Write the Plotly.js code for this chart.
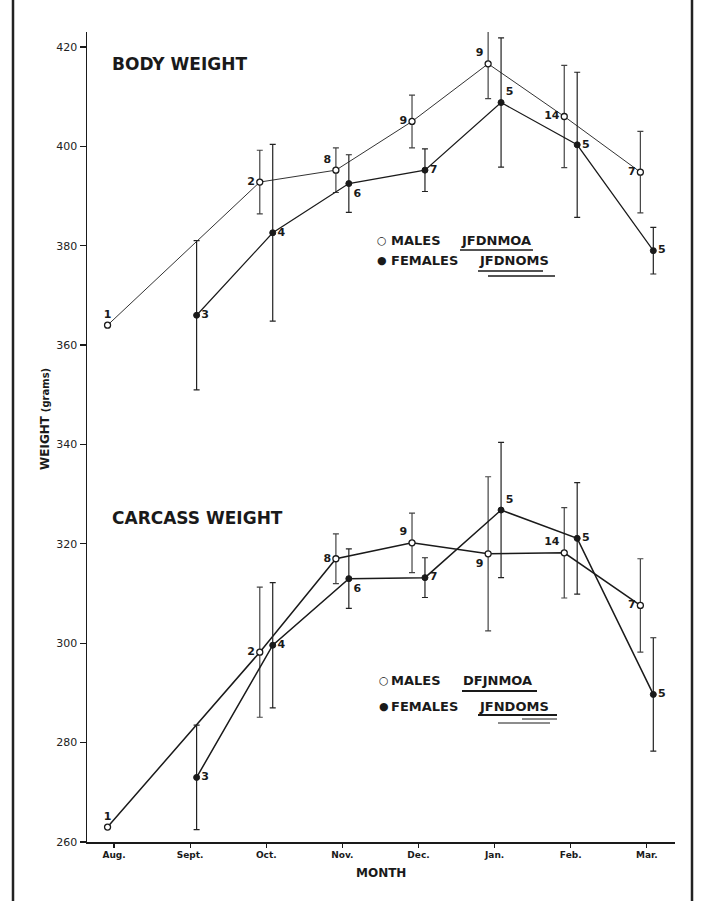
<!DOCTYPE html>
<html>
<head>
<meta charset="utf-8">
<script src="https://cdn.plot.ly/plotly-3.0.1.min.js"></script>
<style>
  html, body { margin: 0; padding: 0; background: #fff; }
  #chart { width: 701px; height: 901px; }
</style>
</head>
<body>
<div id="chart"></div>
<script>
// ---- data ----
const months = ['Aug.', 'Sept.', 'Oct.', 'Nov.', 'Dec.', 'Jan.', 'Feb.', 'Mar.'];
const maleMonths = ['Aug.', 'Oct.', 'Nov.', 'Dec.', 'Jan.', 'Feb.', 'Mar.'];
const femaleMonths = ['Sept.', 'Oct.', 'Nov.', 'Dec.', 'Jan.', 'Feb.', 'Mar.'];

const bodyMale = [364, 392.8, 395.2, 405, 416.6, 406, 394.8];
const bodyMaleErr = [0, 6.4, 4.5, 5.3, 7, 10.3, 8.2];
const bodyMaleN = ['1', '2', '8', '9', '9', '14', '7'];

const bodyFemale = [366, 382.6, 392.5, 395.2, 408.8, 400.3, 379];
const bodyFemaleErr = [15, 17.8, 5.8, 4.3, 13, 14.6, 4.7];
const bodyFemaleN = ['3', '4', '6', '7', '5', '5', '5'];

const carcMale = [263, 298.2, 317, 320.2, 318, 318.2, 307.6];
const carcMaleErr = [0, 13.1, 5, 6, 15.5, 9.1, 9.4];
const carcMaleN = ['1', '2', '8', '9', '9', '14', '7'];

const carcFemale = [273, 299.6, 313, 313.2, 326.8, 321.1, 289.7];
const carcFemaleErr = [10.5, 12.6, 6, 4, 13.6, 11.2, 11.4];
const carcFemaleN = ['3', '4', '6', '7', '5', '5', '5'];

const yTicks = [260, 280, 300, 320, 340, 360, 380, 400, 420];

const bodyLegend = { males: 'JFDNMOA', females: 'JFDNOMS' };
const carcLegend = { males: 'DFJNMOA', females: 'JFNDOMS' };

// ---- layout helpers (pixel -> paper) ----
const L = 87, R = 675, T = 32, B = 842;
const W = R - L, H = B - T;
const px = x => (x - L) / W;
const py = y => (B - y) / H;

const OFF = 0.085;
const xm = maleMonths.map(m => months.indexOf(m) - OFF);
const xf = femaleMonths.map(m => months.indexOf(m) + OFF);

const FONT = 'DejaVu Sans, Arial, sans-serif';
const INK = '#1a1a1a';

function trace(x, y, err, n, female, lineW, lineColor, tpos) {
  return {
    type: 'scatter',
    mode: 'lines+markers+text',
    x: x, y: y,
    text: n,
    textposition: tpos,
    textfont: { family: FONT, size: 11, color: INK, weight: 'bold' },
    line: { color: lineColor, width: lineW },
    marker: female
      ? { symbol: 'circle', size: 6, color: INK, line: { color: INK, width: 1 } }
      : { symbol: 'circle', size: 6, color: '#ffffff', line: { color: INK, width: 1.3 } },
    error_y: {
      type: 'data', array: err, visible: true,
      color: female ? '#222' : '#444', thickness: 1.2, width: 3
    },
    cliponaxis: false,
    showlegend: false,
    hoverinfo: 'x+y'
  };
}

const data = [
  trace(xm, bodyMale, bodyMaleErr, bodyMaleN, false, 1, '#333',
        ['top center', 'middle left', 'top left', 'middle left', 'top left', 'middle left', 'middle left']),
  trace(xf, bodyFemale, bodyFemaleErr, bodyFemaleN, true, 1.2, INK,
        ['middle right', 'middle right', 'bottom right', 'middle right', 'top right', 'middle right', 'middle right']),
  trace(xm, carcMale, carcMaleErr, carcMaleN, false, 1.5, INK,
        ['top center', 'middle left', 'middle left', 'top left', 'bottom left', 'top left', 'middle left']),
  trace(xf, carcFemale, carcFemaleErr, carcFemaleN, true, 1.5, INK,
        ['middle right', 'middle right', 'bottom right', 'middle right', 'top right', 'middle right', 'middle right'])
];

function txt(x, y, text, size, opts) {
  return Object.assign({
    xref: 'paper', yref: 'paper', x: px(x), y: py(y),
    xanchor: 'left', yanchor: 'middle', showarrow: false,
    text: text,
    font: { family: FONT, size: size, color: INK }
  }, opts || {});
}
function hline(x0, x1, y, w) {
  return {
    type: 'line', xref: 'paper', yref: 'paper',
    x0: px(x0), x1: px(x1), y0: py(y), y1: py(y),
    line: { color: INK, width: w || 1.5 }
  };
}

const annotations = [
  txt(110, 64, '<b>BODY WEIGHT</b>', 17),
  txt(110, 518, '<b>CARCASS WEIGHT</b>', 17),
  // body legend
  txt(375, 241, '○', 11),
  txt(389, 241, '<b>MALES</b>', 13),
  txt(459, 241, '<b>' + bodyLegend.males + '</b>', 13),
  txt(375, 261, '●', 11),
  txt(389, 261, '<b>FEMALES</b>', 13),
  txt(477, 261, '<b>' + bodyLegend.females + '</b>', 13),
  // carcass legend
  txt(377, 680, '○', 11),
  txt(389, 680, '<b>MALES</b>', 13),
  txt(461, 680, '<b>' + carcLegend.males + '</b>', 13),
  txt(377, 706, '●', 11),
  txt(389, 706, '<b>FEMALES</b>', 13),
  txt(477, 706, '<b>' + carcLegend.females + '</b>', 13),
  // axis titles
  txt(381, 873, '<b>MONTH</b>', 12, { xanchor: 'center' }),
  txt(45, 419, "<b>WEIGHT</b> <span style='font-size:10px'><b>(grams)</b></span>", 12,
      { xanchor: 'center', textangle: -90 })
];

const shapes = [
  // frame of the figure
  { type: 'line', xref: 'paper', yref: 'paper', x0: px(13), x1: px(13), y0: py(0), y1: py(901),
    line: { color: '#222', width: 2.5 } },
  { type: 'line', xref: 'paper', yref: 'paper', x0: px(692), x1: px(692), y0: py(0), y1: py(901),
    line: { color: '#222', width: 2.5 } },
  // significance underlines
  hline(460, 533, 250, 1.5),
  hline(478, 543, 271, 1.5),
  hline(488, 555, 276, 1.5),
  hline(462, 537, 691, 1.8),
  hline(478, 557, 715, 1.8),
  hline(522, 557, 719, 1),
  hline(498, 550, 723, 1)
];

const layout = {
  width: 701, height: 901, autosize: false,
  margin: { l: L, r: 701 - R, t: T, b: 901 - B },
  paper_bgcolor: '#ffffff', plot_bgcolor: '#ffffff',
  showlegend: false,
  xaxis: {
    range: [-0.355, 7.37],
    tickvals: months.map((m, i) => i),
    ticktext: months,
    showline: true, linecolor: INK, linewidth: 1.5,
    ticks: 'outside', ticklen: 4, tickwidth: 1.2, tickcolor: INK,
    tickfont: { family: FONT, size: 9, color: INK, weight: 'bold' },
    showgrid: false, zeroline: false, fixedrange: true
  },
  yaxis: {
    range: [260, 423],
    tickvals: yTicks,
    ticktext: yTicks.map(String),
    showline: true, linecolor: INK, linewidth: 1.5,
    ticks: 'outside', ticklen: 6, tickwidth: 1.2, tickcolor: INK,
    tickfont: { family: FONT, size: 11, color: '#222' },
    showgrid: false, zeroline: false, fixedrange: true
  },
  annotations: annotations,
  shapes: shapes
};

Plotly.newPlot('chart', data, layout, { staticPlot: true, displayModeBar: false });
</script>
</body>
</html>
